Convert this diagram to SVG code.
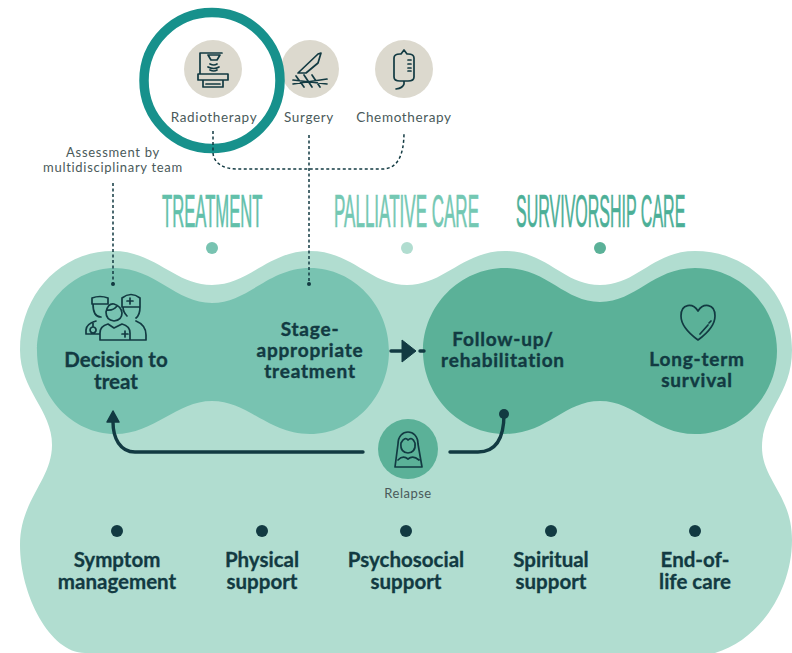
<svg xmlns="http://www.w3.org/2000/svg" width="792" height="653" viewBox="0 0 792 653">
<style>
text{font-family:"Lato","Liberation Sans",sans-serif;text-anchor:middle}
.b{font-weight:700;font-size:20.5px;fill:#123a42;stroke:#123a42;stroke-width:.3}
.t{font-size:19px;letter-spacing:.8px;stroke-width:.4}
.s{font-size:13.5px;fill:#4a5a5a;letter-spacing:.65px}
.h{font-family:"Liberation Sans",sans-serif;font-size:46px;text-anchor:start;stroke-width:.7}
.i{fill:none;stroke:#123a42;stroke-width:1.7;stroke-linejoin:round;stroke-linecap:round}
.d{fill:none;stroke:#123a42;stroke-width:1.5;stroke-dasharray:3 2.5}
.c{fill:none;stroke:#123a42;stroke-width:3.4;stroke-linecap:round}
.g{fill:#dcd9ce}
.n{fill:#123a42}
</style>
<rect width="792" height="653" fill="#fff"/>
<g id="background">
<path fill="#b1ddd0" d="M113 251C155 251 175 285 212 285C249 285 268 251 310 251C352 251 370 285 407 285C444 285 463 251 505 251C547 251 563 285 600 285C637 285 653 251 695 251C750 251 792 295 792 350C792 395 762 410 762 447C762 480 792 495 792 540C792 590 760 640 715 653L85 653C50 653 20 595 20 545C20 500 52 480 52 445C52 410 20 390 20 350C20 295 60 251 113 251Z"/>
</g>
<g id="node-treatment-blob">
<path fill="#78c3b1" d="M115 268C155 268 176 303 212 303C248 303 268 268 310 268C354 268 389 306 389 351C389 396 354 434 310 434C268 434 248 401 212 401C176 401 155 434 115 434C72 434 37 396 37 351C37 306 72 268 115 268Z"/>
</g>
<g id="node-survivorship-blob">
<path fill="#5bb198" d="M505 268C547 268 564 302 600 302C636 302 653 268 695 268C740 268 777 306 777 351C777 396 740 434 695 434C653 434 636 401 600 401C564 401 547 434 505 434C460 434 423 396 423 351C423 306 460 268 505 268Z"/>
</g>
<g id="node-radiotherapy">
<circle class="g" cx="213" cy="69" r="29"/>
<path class="i" d="M200 74V53H222M208 55H220L217 60H211ZM210 64Q214 66 217 64M208 67Q214 70 219 67M210 70Q214 72 217 70M198 74H228V80H198ZM203 80V87H223V80M206 84H220"/>
<text class="s" x="214" y="122">Radiotherapy</text>
</g>
<g id="node-surgery">
<circle class="g" cx="310" cy="69" r="29"/>
<path class="i" d="M298 73L318 54L321 53L318 63L306 73ZM293 80L327 84M293 84L327 79M296 76L304 87M304 75L312 87M312 75L320 87"/>
<text class="s" x="309" y="122">Surgery</text>
</g>
<g id="node-chemotherapy">
<circle class="g" cx="404" cy="69" r="29"/>
<path class="i" d="M400 54Q394 54 394 58V77Q394 81 400 81H408Q414 81 414 77V58Q414 54 408 54H407L404 50L401 54ZM404 81V84Q403 88 396 89M408 60H411M408 64H411M408 68H411M408 71H411"/>
<text class="s" x="404" y="122">Chemotherapy</text>
</g>
<circle id="highlight-ring" cx="212" cy="80.500" r="68" fill="none" stroke="#17918c" stroke-width="9.500"/>
<g id="connectors">
<path class="d" d="M213 131V152C213 163 224 169 236 169H382C396 169 404 158 404 132"/>
<path class="d" d="M309 135V283"/>
<path class="d" d="M113 183V283"/>
<circle class="n" cx="113" cy="284" r="2"/>
<circle class="n" cx="309" cy="284" r="2"/>
<path class="c" d="M391 351H405"/>
<path class="n" d="M402 340L416 351L402 362Z" stroke="#123a42" stroke-width="1" stroke-linejoin="round"/>
<path class="c" d="M420 351H424" stroke-width="3"/>
<path class="c" d="M363 452H135C120 452 113 438 113 422"/>
<path class="n" d="M113 411L119 422H107Z" stroke="#123a42" stroke-width="1.500" stroke-linejoin="round"/>
<path class="c" d="M450 452H478C495 452 504 440 504 414"/>
<circle class="n" cx="504" cy="414" r="5"/>
</g>
<g id="label-assessment">
<text class="s" x="113" y="157" style="font-size:13px;letter-spacing:.7px">Assessment by</text>
<text class="s" x="113" y="172" style="font-size:13px;letter-spacing:.7px">multidisciplinary team</text>
</g>
<g id="phase-treatment">
<text class="h" transform="translate(162 227) scale(.362 1)" fill="#62c0aa" stroke="#62c0aa">TREATMENT</text>
<circle cx="212" cy="248" r="6" fill="#78c3b1"/>
</g>
<g id="phase-palliative">
<text class="h" transform="translate(334 227) scale(.37 1)" fill="#74c8b3" stroke="#74c8b3">PALLIATIVE CARE</text>
<circle cx="407" cy="248" r="6" fill="#b1ddd0"/>
</g>
<g id="phase-survivorship">
<text class="h" transform="translate(516 227) scale(.348 1)" fill="#4caf97" stroke="#4caf97">SURVIVORSHIP CARE</text>
<circle cx="600" cy="248" r="6" fill="#5bb198"/>
</g>
<g id="node-decision">
<path class="i" d="M92 298Q100 295 108 298V304H92ZM93 304Q93 317 101 317M122 298Q131 291 140 298V307H122ZM127 301H133M130 298V304M123 307Q123 312 127 316M140 307Q140 315 136 318M106 312Q108 303 114 304Q121 306 122 313Q122 320 114 321Q106 320 106 312ZM107 310Q113 311 117 306M100 340V333Q100 326 108 324L114 328L122 324Q130 326 130 333V340ZM100 340H146V335Q146 325 136 321M100 334H86V330Q86 324 96 321M93 327a3 3 0 1 0 .1 0M93 322V327M122 334H128M125 331V337"/>
<text class="b" y="367"><tspan x="116">Decision to</tspan><tspan x="116" dy="22">treat</tspan></text>
</g>
<g id="node-stage">
<text class="b t" y="336"><tspan x="310">Stage-</tspan><tspan x="310" dy="21">appropriate</tspan><tspan x="310" dy="21">treatment</tspan></text>
</g>
<g id="node-followup">
<text class="b t" y="346"><tspan x="503">Follow-up/</tspan><tspan x="503" dy="21">rehabilitation</tspan></text>
</g>
<g id="node-longterm">
<path class="i" d="M698 340C687 332 681 323 681 316C681 303 693 303 698 311C703 303 715 303 715 316C715 323 709 332 698 340ZM700 334L708 325M709 323L711 321" stroke-width="2"/>
<text class="b t" y="366"><tspan x="697">Long-term</tspan><tspan x="697" dy="21">survival</tspan></text>
</g>
<g id="node-relapse">
<circle cx="408" cy="449" r="30" fill="#5bb198"/>
<path class="i" d="M395 467L398 444C398 428 418 428 418 444L422 467ZM401 443Q405 436 408 440Q412 436 415 443C416 450 412 453 408 453C404 453 400 450 401 443ZM398 460Q403 455 408 459Q413 455 419 460"/>
<text class="s" x="408" y="498" style="font-size:13px;letter-spacing:.5px">Relapse</text>
</g>
<g id="node-symptom">
<circle class="n" cx="117" cy="531" r="6"/>
<text class="b" y="567"><tspan x="117">Symptom</tspan><tspan x="117" dy="22">management</tspan></text>
</g>
<g id="node-physical">
<circle class="n" cx="262" cy="531" r="6"/>
<text class="b" y="567"><tspan x="262">Physical</tspan><tspan x="262" dy="22">support</tspan></text>
</g>
<g id="node-psychosocial">
<circle class="n" cx="406" cy="531" r="6"/>
<text class="b" y="567"><tspan x="406">Psychosocial</tspan><tspan x="406" dy="22">support</tspan></text>
</g>
<g id="node-spiritual">
<circle class="n" cx="551" cy="531" r="6"/>
<text class="b" y="567"><tspan x="551">Spiritual</tspan><tspan x="551" dy="22">support</tspan></text>
</g>
<g id="node-endoflife">
<circle class="n" cx="695" cy="531" r="6"/>
<text class="b" y="567"><tspan x="695">End-of-</tspan><tspan x="695" dy="22">life care</tspan></text>
</g>
</svg>
